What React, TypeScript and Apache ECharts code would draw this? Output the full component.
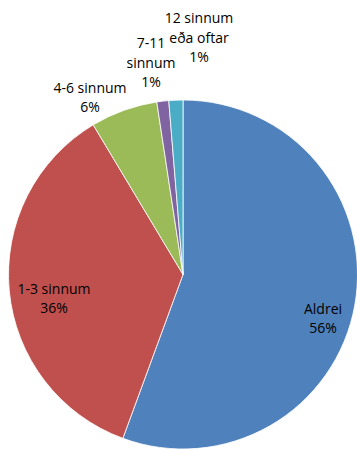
import React, { useEffect, useRef } from "react";
import * as echarts from "echarts";

const categories = ["Aldrei", "1-3 sinnum", "4-6 sinnum", "7-11\nsinnum", "12 sinnum\neða oftar"];
const values = [55.6, 35.8, 6.2, 1.1, 1.3];
const colors = ["#4F81BD", "#C0504D", "#9BBB59", "#8064A2", "#4BACC6"];
// label anchor positions (center of text block) in px
const labelPos: [number, number][] = [
  [323, 318],
  [54, 298],
  [90, 97],
  [151, 62],
  [199, 37],
];

export default function App() {
  const ref = useRef<HTMLDivElement>(null);
  useEffect(() => {
    const chart = echarts.init(ref.current!, null, { renderer: "svg" });
    chart.setOption({
      animation: false,
      backgroundColor: "#fff",
      series: [
        {
          type: "pie",
          center: [183, 274.5],
          radius: 174.5,
          startAngle: 90,
          clockwise: true,
          avoidLabelOverlap: false,
          itemStyle: { borderColor: "#ffffff", borderWidth: 0.8 },
          label: {
            show: true,
            position: "inside",
            color: "#000",
            fontFamily: "Open Sans",
            fontSize: 14,
            lineHeight: 19.5,
            align: "center",
            formatter: (p: any) => `${p.name}\n${Math.round(p.value)}%`,
          },
          labelLine: { show: false },
          labelLayout: (p: any) => ({
            x: labelPos[p.dataIndex][0],
            y: labelPos[p.dataIndex][1],
            align: "center",
            verticalAlign: "middle",
          }),
          emphasis: { disabled: true },
          data: categories.map((c, i) => ({
            name: c,
            value: values[i],
            itemStyle: { color: colors[i] },
          })),
        },
      ],
    });
    return () => chart.dispose();
  }, []);
  return (
    <div
      ref={ref}
      style={{ position: "fixed", left: 0, top: 0, width: 357, height: 449 }}
    />
  );
}
